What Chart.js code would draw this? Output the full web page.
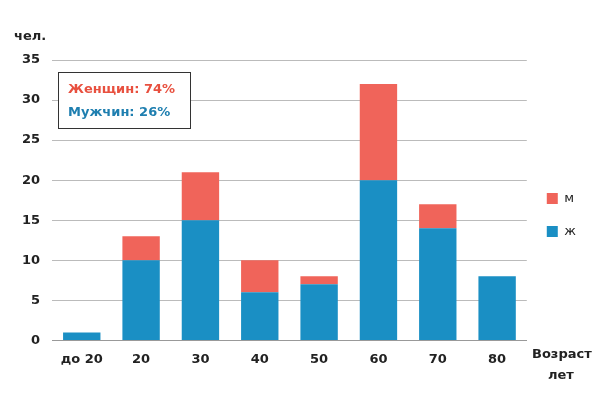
<!DOCTYPE html>
<html><head><meta charset="utf-8">
<script src="https://cdn.jsdelivr.net/npm/chart.js@4"></script>
<style>html,body{margin:0;background:#fff}#w{width:600px;height:408px}</style>
</head><body><div id="w"><canvas id="c"></canvas></div>
<script>
const categories = ["до 20","20","30","40","50","60","70","80"];
const women = [1,10,15,6,7,20,14,8];
const men = [0,3,6,4,1,12,3,0];
const yTicks = [0,5,10,15,20,25,30,35];
const annot = [["Женщин: 74%","#e8503f"],["Мужчин: 26%","#1f7fb0"]];

const deco = {
  id:'deco',
  afterDraw(chart){
    const ctx = chart.ctx;
    ctx.save();
    ctx.font = 'bold 13px "DejaVu Sans", sans-serif';
    ctx.fillStyle = '#222';
    ctx.textAlign='left';
    ctx.fillText('чел.', 14, 40);
    ctx.fillText('Возраст', 532, 358);
    ctx.fillText('лет', 548, 379);
    ctx.fillStyle='#fff';
    ctx.fillRect(58,72,132,56);
    ctx.strokeStyle='#333'; ctx.lineWidth=1;
    ctx.strokeRect(58.5,72.5,132,56);
    annot.forEach((a,i)=>{ctx.fillStyle=a[1]; ctx.fillText(a[0],68,93+i*23);});
    ctx.restore();
  }
};

new Chart(document.getElementById('c'),{
  type:'bar',
  data:{labels:categories,datasets:[
    {label:'ж',data:women,backgroundColor:'#1a8fc4',stack:'s',barPercentage:0.63,categoryPercentage:1},
    {label:'м',data:men,backgroundColor:'#f0645a',stack:'s',barPercentage:0.63,categoryPercentage:1}
  ]},
  options:{responsive:true,maintainAspectRatio:false,animation:false,
    layout:{padding:{top:60,left:10,right:14,bottom:38}},
    plugins:{legend:{position:'right',reverse:true,
      labels:{boxWidth:11,boxHeight:11,padding:20,color:'#222',font:{size:13,family:'"DejaVu Sans", sans-serif'}}},
      tooltip:{enabled:false}},
    scales:{
      x:{stacked:true,grid:{display:false},border:{color:'#999'},
        ticks:{color:'#222',font:{size:13,weight:'bold',family:'"DejaVu Sans", sans-serif'}}},
      y:{stacked:true,min:0,max:35,afterBuildTicks:s=>{s.ticks=yTicks.map(v=>({value:v}));},
        grid:{color:'#bbb',drawTicks:false},border:{display:false},
        ticks:{color:'#222',padding:12,font:{size:13,weight:'bold',family:'"DejaVu Sans", sans-serif'}}}
    }},
  plugins:[deco]
});
</script></body></html>
